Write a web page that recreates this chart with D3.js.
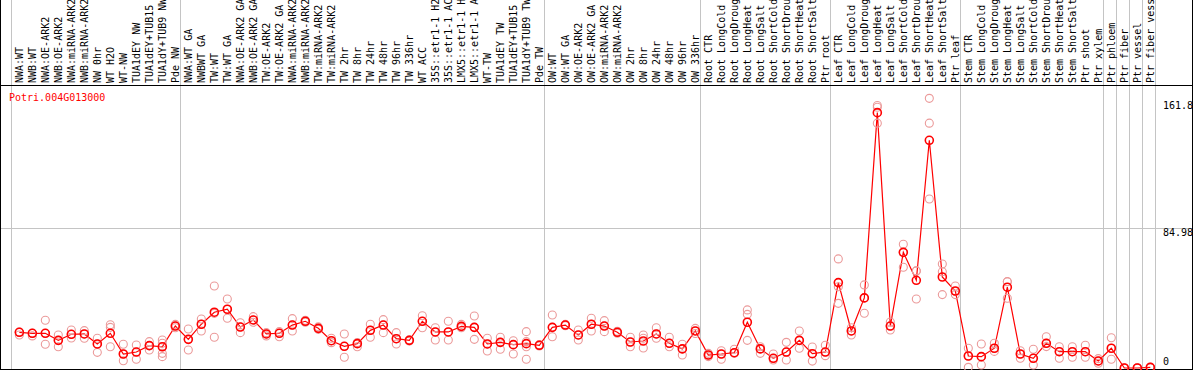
<!DOCTYPE html>
<html lang="en">
<head>
<meta charset="UTF-8">
<title>Potri.004G013000 expression</title>
<script src="https://d3js.org/d3.v7.min.js"></script>
<style>
  body { margin: 0; background: #fff; }
  svg text { font-family: "DejaVu Sans Mono", "Liberation Mono", monospace; font-size: 10px; }
</style>
</head>
<body>
<script>
// sample names (as cut off in the header)
var categories = [
  "NWA:WT", "NWB:WT", "NWA:OE-ARK2", "NWB:OE-ARK2", "NWA:miRNA-ARK2", "NWB:miRNA-ARK2",
  "NW 0hr", "WT H2O", "WT-NW", "TUA1dEY NW", "TUA1dEY+TUB15", "TUA1dY+TUB9 NW", "Pde NW",
  "NWA:WT GA", "NWBWT GA", "TW:WT", "TW:WT GA", "NWA:OE-ARK2 GA", "NWB:OE-ARK2 GA", "TW:OE-ARK2",
  "TW:OE-ARK2 GA", "NWA:miRNA-ARK2", "NWB:miRNA-ARK2", "TW:miRNA-ARK2", "TW:miRNA-ARK2",
  "TW 2hr", "TW 8hr", "TW 24hr", "TW 48hr", "TW 96hr", "TW 336hr", "WT ACC",
  "35S::etr1-1 H2", "35S::etr1-1 AC", "LMX5::etr1-1 H", "LMX5::etr1-1 A", "WT-TW",
  "TUA1dEY TW", "TUA1dEY+TUB15", "TUA1dY+TUB9 TW", "Pde TW",
  "OW:WT", "OW:WT GA", "OW:OE-ARK2", "OW:OE-ARK2 GA", "OW:miRNA-ARK2", "OW:miRNA-ARK2",
  "OW 2hr", "OW 8hr", "OW 24hr", "OW 48hr", "OW 96hr", "OW 336hr",
  "Root CTR", "Root LongCold", "Root LongDroug", "Root LongHeat", "Root LongSalt",
  "Root ShortCold", "Root ShortDrou", "Root ShortHeat", "Root ShortSalt", "Ptr root",
  "Leaf CTR", "Leaf LongCold", "Leaf LongDroug", "Leaf LongHeat", "Leaf LongSalt",
  "Leaf ShortCold", "Leaf ShortDrou", "Leaf ShortHeat", "Leaf ShortSalt", "Ptr leaf",
  "Stem CTR", "Stem LongCold", "Stem LongDroug", "Stem LongHeat", "Stem LongSalt",
  "Stem ShortCold", "Stem ShortDrou", "Stem ShortHeat", "Stem ShortSalt", "Ptr shoot", "Ptr xylem",
  "Ptr phloem", "Ptr fiber", "Ptr vessel", "Ptr fiber vess"
];

// how many samples in each boxed group
var groupSizes = [13, 28, 12, 10, 10, 11, 1, 1, 1, 1];

// mean expression per sample
var means = [
  21.7, 21.1, 21.1, 16.8, 20.5, 20.7, 14.6, 21.1, 8.5, 9.7, 13.6, 12.9, 25.5,
  17.4, 26.6, 33.9, 35.7, 24.9, 29.2, 20.7, 21.1, 26.1, 28.4, 24.1, 16.6, 13.2, 14.8, 22.9,
  26.1, 17.8, 16.8, 28.4, 21.9, 21.9, 25.3, 24.7, 14.6, 15.6, 14.2, 14.8, 13.8,
  24.7, 26.1, 20.1, 26.6, 25.5, 21.7, 15.8, 16.4, 20.7, 15.0, 11.6, 22.5,
  7.9, 8.5, 9.3, 27.8, 11.6, 5.9, 9.7, 16.8, 8.7, 9.7,
  51.9, 22.5, 42.6, 155.2, 25.5, 70.3, 53.3, 138.4, 55.3, 46.8,
  7.3, 6.9, 12.0, 49.1, 8.5, 5.9, 15.0, 9.9, 9.9, 9.9, 4.3,
  12.0, 0, 0, 0.4
];

// replicate values per sample
var replicates = [
  [21.9, 21.7, 20.1], [21.1, 21.1, 19.5], [29.0, 21.1, 14.4], [20.1, 16.8, 12.9],
  [23.1, 20.5, 18.2], [22.7, 20.7, 18.1], [18.1, 14.6, 9.5], [26.3, 24.7, 12.9],
  [14.4, 8.5, 4.4], [14.0, 9.7, 5.3], [16.0, 13.6, 10.9], [17.0, 15.0, 12.9, 8.9, 6.9],
  [26.5, 25.5, 24.5],
  [23.7, 17.4, 10.9], [29.8, 26.6, 22.5], [49.8, 33.2, 18.7], [41.9, 35.7, 30.2],
  [27.5, 24.9, 21.5], [31.2, 29.2, 27.8], [21.5, 20.7, 19.5], [22.1, 21.1, 19.0],
  [30.0, 26.1, 22.5], [29.0, 28.4, 27.8], [25.0, 24.1, 23.5], [18.1, 16.6, 15.4],
  [20.7, 13.2, 6.5], [15.5, 14.8, 12.9], [26.6, 22.9, 18.7], [29.4, 26.1, 21.5],
  [21.5, 17.8, 14.6], [17.2, 16.8, 16.4], [31.8, 28.4, 24.5], [24.5, 21.9, 17.0],
  [28.4, 21.9, 17.0], [26.5, 25.3, 24.5], [31.6, 24.7, 17.4], [18.1, 14.6, 10.3],
  [18.7, 15.6, 11.4], [16.6, 14.2, 8.5], [22.1, 16.0, 12.9, 5.3], [14.2, 13.8, 13.4],
  [32.2, 24.7, 19.0], [26.5, 26.1, 25.7], [23.1, 20.1, 17.0], [30.2, 26.6, 22.5],
  [28.8, 25.5, 22.1], [22.3, 21.7, 21.1], [18.7, 15.8, 12.9], [20.1, 18.1, 12.2],
  [24.5, 20.7, 18.1], [18.7, 15.0, 12.9], [14.4, 11.6, 7.9], [24.1, 22.5, 21.0],
  [8.9, 7.9, 6.9], [10.5, 8.5, 5.3], [11.4, 9.3, 9.0], [35.3, 32.6, 16.8],
  [12.9, 11.6, 8.9], [8.5, 5.9, 4.9], [15.6, 9.7, 4.9], [22.5, 16.8, 12.0],
  [12.8, 8.7, 4.2], [13.8, 9.7, 7.5],
  [66.3, 49.4, 39.3], [24.5, 22.5, 20.1], [50.5, 42.6, 33.3], [159.5, 158.5, 148.8],
  [28.0, 25.5, 23.1], [75.2, 70.3, 61.2], [59.0, 59.0, 41.9], [163.9, 148.8, 102.7],
  [63.2, 58.5, 44.6], [49.8, 46.6, 44.6],
  [12.0, 7.3, 0.4], [14.6, 6.9, 1.8], [15.0, 12.0, 10.1], [52.4, 52.5, 42.4],
  [10.5, 8.5, 5.9], [11.4, 5.9, 1.8], [19.0, 15.0, 13.0], [12.9, 9.9, 5.9],
  [12.9, 9.9, 6.5], [13.8, 9.9, 6.5], [5.7, 4.3, 2.9],
  [18.4, 12.0, 5.3], [0, 0, 0], [0, 0.1, 0], [0.4, 0.5, 0.3]
];

// labels on the right hand side
var yTicks = [0, 84.98, 161.8];
var geneId = "Potri.004G013000";

//Width and height
var w = 1194;
var h = 370;
var headerH = 85;

// some sample names repeat, so key everything by position
var data = categories.map(function(c, i) {
  return { i: i, name: c, mean: means[i], reps: replicates[i] };
});

var svg = d3.select("body")
  .append("svg")
  .attr("width", w)
  .attr("height", h);

//Scales
var xScale = d3.scaleBand()
  .domain(d3.range(categories.length))
  .range([11, 1155]);

var yScale = d3.scaleLinear()
  .domain([0, 172])
  .range([368, headerH]);

function cx(d) { return xScale(d.i) + xScale.bandwidth() * 0.64; }
function edge(b) { return (b < categories.length ? xScale(b) : xScale.range()[1]) + 0.5; }

//middle grid line
svg.append("line")
  .attr("x1", 0).attr("x2", 1192)
  .attr("y1", Math.round(yScale(yTicks[1])) + 0.5)
  .attr("y2", Math.round(yScale(yTicks[1])) + 0.5)
  .attr("stroke", "#c4c4c4");

//group separators
var bounds = [0];
groupSizes.forEach(function(n) { bounds.push(bounds[bounds.length - 1] + n); });
svg.selectAll("line.sep")
  .data(bounds)
  .enter()
  .append("line")
  .attr("class", "sep")
  .attr("x1", edge)
  .attr("x2", edge)
  .attr("y1", 0)
  .attr("y2", h)
  .attr("stroke", "#c4c4c4");

//header labels
svg.selectAll("text.cat")
  .data(data)
  .enter()
  .append("text")
  .attr("class", "cat")
  .attr("transform", function(d) {
    return "translate(" + (xScale(d.i) + 11.5) + "," + (headerH - 2) + ") rotate(-90)";
  })
  .attr("fill", "#000")
  .text(function(d) { return d.name; });

//frame
svg.append("line").attr("x1", 0).attr("x2", 1193).attr("y1", headerH + 0.5).attr("y2", headerH + 0.5).attr("stroke", "#000");
svg.append("line").attr("x1", 0).attr("x2", 1193).attr("y1", 369.5).attr("y2", 369.5).attr("stroke", "#000");
svg.append("line").attr("x1", 0.5).attr("x2", 0.5).attr("y1", 0).attr("y2", h).attr("stroke", "#000");
svg.append("line").attr("x1", 1192.5).attr("x2", 1192.5).attr("y1", 0).attr("y2", h).attr("stroke", "#000");

//gene name
svg.append("text")
  .attr("x", 9)
  .attr("y", 100.5)
  .attr("fill", "#ff0000")
  .text(geneId);

//value labels
svg.selectAll("text.tick")
  .data(yTicks)
  .enter()
  .append("text")
  .attr("class", "tick")
  .attr("x", 1163)
  .attr("y", function(v) { return yScale(v); })
  .attr("dy", function(v) { return v === 0 ? "-0.3em" : "0.75em"; })
  .attr("fill", "#000")
  .text(function(v) { return v; });

//mean line
var line = d3.line()
  .x(cx)
  .y(function(d) { return yScale(d.mean); });

svg.append("path")
  .datum(data)
  .attr("d", line)
  .attr("fill", "none")
  .attr("stroke", "#ff0000")
  .attr("stroke-width", 1.2);

//replicate circles
var repPts = [];
data.forEach(function(d) {
  d.reps.forEach(function(r) { repPts.push({ i: d.i, v: r }); });
});
svg.selectAll("circle.rep")
  .data(repPts)
  .enter()
  .append("circle")
  .attr("class", "rep")
  .attr("cx", cx)
  .attr("cy", function(d) { return yScale(d.v); })
  .attr("r", 4)
  .attr("fill", "none")
  .attr("stroke", "#eb9a9a")
  .attr("stroke-width", 1.1);

//mean circles
svg.selectAll("circle.mean")
  .data(data)
  .enter()
  .append("circle")
  .attr("class", "mean")
  .attr("cx", cx)
  .attr("cy", function(d) { return yScale(d.mean); })
  .attr("r", 4)
  .attr("fill", "none")
  .attr("stroke", "#ff0000")
  .attr("stroke-width", 1.6);
</script>
</body>
</html>
